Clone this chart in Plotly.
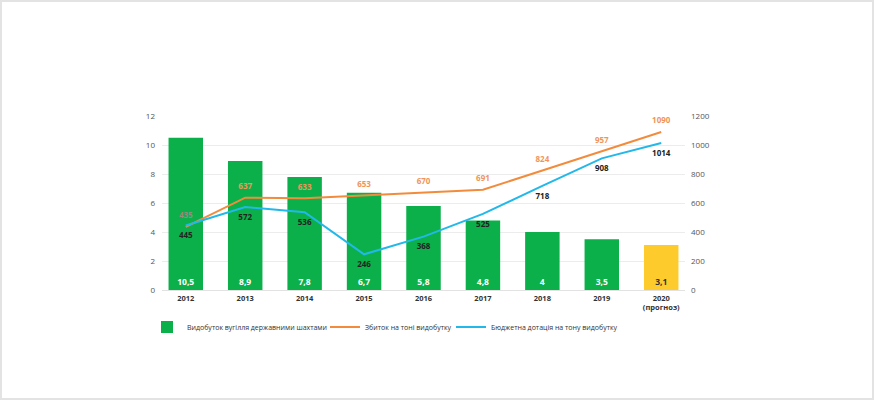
import plotly.graph_objects as go

years = ["2012", "2013", "2014", "2015", "2016", "2017", "2018", "2019", "2020<br>(прогноз)"]
production = [10.5, 8.9, 7.8, 6.7, 5.8, 4.8, 4.0, 3.5, 3.1]
production_labels = ["10,5", "8,9", "7,8", "6,7", "5,8", "4,8", "4", "3,5", "3,1"]
loss_per_ton = [435, 637, 633, 653, 670, 691, 824, 957, 1090]
subsidy_per_ton = [445, 572, 536, 246, 368, 525, 718, 908, 1014]
left_ticks = [0, 2, 4, 6, 8, 10, 12]
right_ticks = [0, 200, 400, 600, 800, 1000, 1200]

W, H = 874, 400
L, R, T, B = 162, 189, 116, 110
pw, ph = W - L - R, H - T - B

FONT = "Open Sans"
green = "#0cb04a"
yellow = "#fdcb2c"
orange = "#f28c3c"
blue = "#22b8ea"

xs = list(range(len(years)))
bar_colors = [green] * (len(years) - 1) + [yellow]
bar_text_colors = ["white"] * (len(years) - 1) + ["#333333"]


def px_x(p):
    return (p - L) / pw


legend_y = (H - B - 327) / ph

fig = go.Figure()
fig.add_trace(go.Bar(
    x=xs, y=production, name="Видобуток вугілля державними шахтами",
    marker=dict(color=bar_colors, line=dict(width=0)),
    width=0.58,
    text=production_labels, textposition="inside", insidetextanchor="start",
    textfont=dict(family=FONT, size=8.5, color=bar_text_colors, weight="bold"),
    textangle=0, cliponaxis=False,
    showlegend=True, legend="legend",
))
fig.add_trace(go.Scatter(
    x=xs, y=loss_per_ton, name="Збиток на тоні видобутку", yaxis="y2",
    mode="lines+markers+text", line=dict(color=orange, width=2),
    marker=dict(size=9, color="rgba(0,0,0,0)", line=dict(width=0)),
    text=[str(v) for v in loss_per_ton], textposition="top center",
    textfont=dict(family=FONT, size=8, color=["#9a8a7a"] + ["#f0955a"] * 8, weight="bold"),
    cliponaxis=False,
    legend="legend2",
))
fig.add_trace(go.Scatter(
    x=xs, y=subsidy_per_ton, name="Бюджетна дотація на тону видобутку", yaxis="y2",
    mode="lines+markers+text", line=dict(color=blue, width=2),
    marker=dict(size=9, color="rgba(0,0,0,0)", line=dict(width=0)),
    text=[str(v) for v in subsidy_per_ton], textposition="bottom center",
    textfont=dict(family=FONT, size=8, color="#222222", weight="bold"),
    cliponaxis=False,
    legend="legend3",
))

legend_common = dict(
    orientation="h", xanchor="left", y=legend_y, yanchor="middle",
    font=dict(family=FONT, size=7, color="#333333"),
    bgcolor="rgba(0,0,0,0)", borderwidth=0,
)

fig.update_layout(
    width=W, height=H,
    margin=dict(l=L, r=R, t=T, b=B, pad=0),
    paper_bgcolor="white", plot_bgcolor="white",
    font=dict(family=FONT, size=8, color="#444444"),
    hovermode=False,
    xaxis=dict(
        tickmode="array", tickvals=xs, ticktext=years,
        range=[-0.4, 8.4], showgrid=False, zeroline=False, showline=False,
        ticks="", ticklabelstandoff=2,
        tickfont=dict(family=FONT, size=7.5, color="#333333", weight="bold"),
    ),
    yaxis=dict(
        range=[0, 12], tickvals=left_ticks, showgrid=True, gridcolor="#ececec",
        gridwidth=1, zeroline=True, zerolinecolor="#e2e2e2", zerolinewidth=1,
        showline=False, ticks="", ticklabelstandoff=6,
        tickfont=dict(family=FONT, size=8, color="#555555"),
    ),
    yaxis2=dict(
        range=[0, 1200], tickvals=right_ticks, overlaying="y", side="right",
        showgrid=False, zeroline=False, showline=False, ticks="", ticklabelstandoff=5,
        tickfont=dict(family=FONT, size=8, color="#555555"),
    ),
    legend=dict(x=px_x(147), **legend_common),
    legend2=dict(x=px_x(325), **legend_common),
    legend3=dict(x=px_x(451), **legend_common),
    shapes=[dict(
        type="rect", xref="paper", yref="paper",
        x0=(-L + 1) / pw, x1=(W - L - 1) / pw,
        y0=(-B + 1) / ph, y1=(H - B - 1) / ph,
        line=dict(color="#e3e3e3", width=2), fillcolor="rgba(0,0,0,0)", layer="below",
    )],
)

fig.write_html(
    "out.html",
    config={"displayModeBar": False},
    post_script="document.body.style.margin='0';document.body.style.padding='0';",
)
